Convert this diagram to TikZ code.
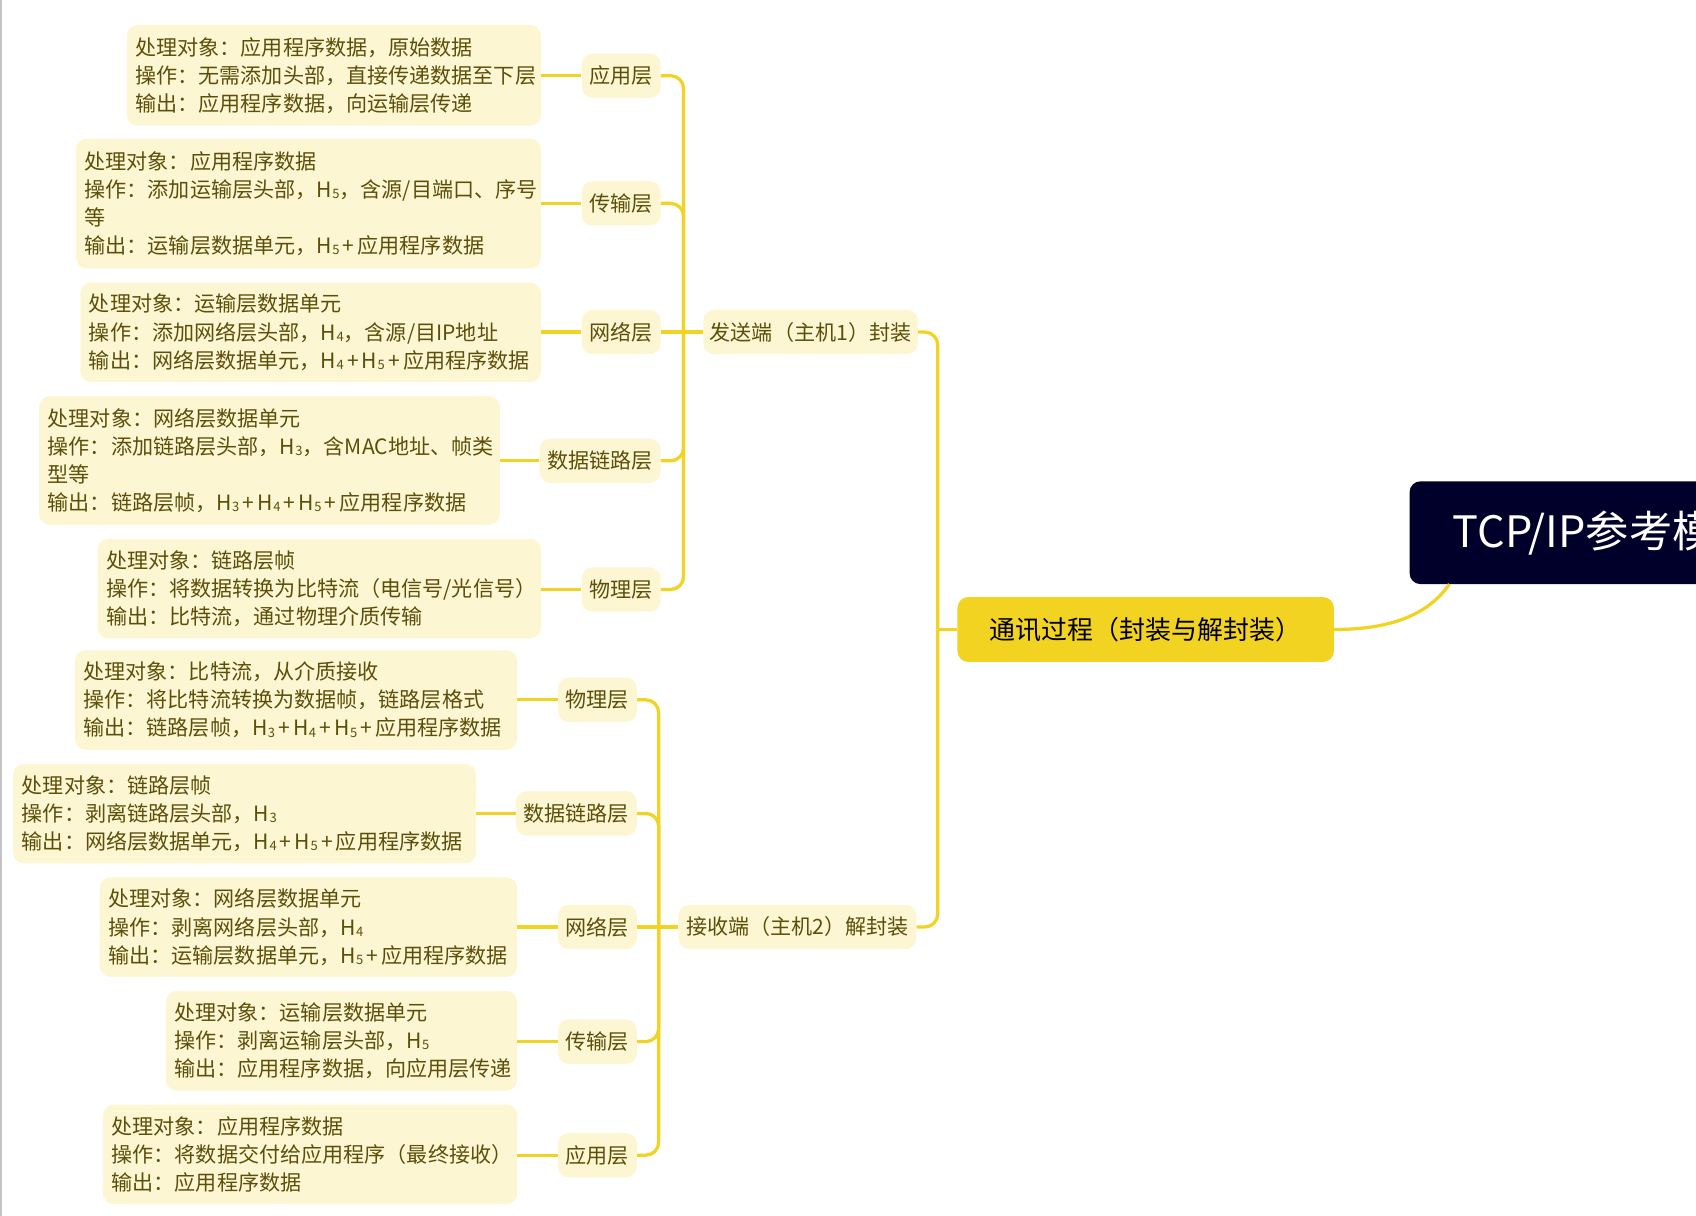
\documentclass[tikz,border=0pt]{standalone}
\usepackage{fontspec}
\setmainfont{Noto Sans CJK SC}
\definecolor{boxfill}{HTML}{FDF6D3}
\definecolor{txtcol}{HTML}{5C4F0A}
\definecolor{conncol}{HTML}{F2D322}
\definecolor{rootcol}{HTML}{00002A}
\definecolor{edgegray}{HTML}{C4C4C4}
\newcommand\Hsb[1]{H\kern0.3pt\raisebox{-0.1ex}{\fontsize{12}{12}\selectfont #1}}
\newcommand\pl{\kern3pt+\kern3pt}
\tikzset{
  detail/.style={fill=boxfill, text=txtcol, rounded corners=10pt, anchor=north west,
    align=left, inner xsep=8pt, inner ysep=0pt,
    font=\fontsize{19.5}{26}\selectfont},
  layer/.style={fill=boxfill, text=txtcol, rounded corners=10pt, anchor=east,
    minimum height=41pt, inner xsep=7pt, inner ysep=0pt,
    font=\fontsize{19.5}{26}\selectfont},
  mid/.style={fill=boxfill, text=txtcol, rounded corners=10pt,
    minimum height=41pt, inner xsep=6pt, inner ysep=0pt,
    font=\fontsize{19.5}{26}\selectfont},
  conn/.style={draw=conncol, line width=3pt},
  connr/.style={conn, rounded corners=12pt}
}
\begin{document}
\begin{tikzpicture}[x=1pt,y=-1pt]
\useasboundingbox (0,0) rectangle (1568,1124);
\clip (0,0) rectangle (1568,1124);
\fill[edgegray] (0,0) rectangle (2,1124);

% detail boxes, sender
\node[detail, minimum width=383pt, minimum height=93pt, text width=367pt] (d1) at (117,23)
 {处理对象：应用程序数据，原始数据\\操作：无需添加头部，直接传递数据至下层\\输出：应用程序数据，向运输层传递};
\node[detail, minimum width=430pt, minimum height=120pt, text width=414pt] (d2) at (70,128)
 {处理对象：应用程序数据\\操作：添加运输层头部，\Hsb{5}，含源/目端口、序号\\等\\输出：运输层数据单元，\Hsb{5}\pl{}应用程序数据};
\node[detail, minimum width=426pt, minimum height=92pt, text width=410pt] (d3) at (74,261)
 {处理对象：运输层数据单元\\操作：添加网络层头部，\Hsb{4}，含源/目IP地址\\输出：网络层数据单元，\Hsb{4}\pl{}\Hsb{5}\pl{}应用程序数据};
\node[detail, minimum width=426pt, minimum height=119pt, text width=410pt] (d4) at (36,366)
 {处理对象：网络层数据单元\\操作：添加链路层头部，\Hsb{3}，含MAC地址、帧类\\型等\\输出：链路层帧，\Hsb{3}\pl{}\Hsb{4}\pl{}\Hsb{5}\pl{}应用程序数据};
\node[detail, minimum width=410pt, minimum height=92pt, text width=394pt] (d5) at (90,498)
 {处理对象：链路层帧\\操作：将数据转换为比特流（电信号/光信号）\\输出：比特流，通过物理介质传输};

% detail boxes, receiver
\node[detail, minimum width=409pt, minimum height=92pt, text width=393pt] (d6) at (69,601)
 {处理对象：比特流，从介质接收\\操作：将比特流转换为数据帧，链路层格式\\输出：链路层帧，\Hsb{3}\pl{}\Hsb{4}\pl{}\Hsb{5}\pl{}应用程序数据};
\node[detail, minimum width=428pt, minimum height=92pt, text width=412pt] (d7) at (12,706)
 {处理对象：链路层帧\\操作：剥离链路层头部，\Hsb{3}\\输出：网络层数据单元，\Hsb{4}\pl{}\Hsb{5}\pl{}应用程序数据};
\node[detail, minimum width=386pt, minimum height=92pt, text width=370pt] (d8) at (92,811)
 {处理对象：网络层数据单元\\操作：剥离网络层头部，\Hsb{4}\\输出：运输层数据单元，\Hsb{5}\pl{}应用程序数据};
\node[detail, minimum width=325pt, minimum height=92pt, text width=309pt] (d9) at (153,916)
 {处理对象：运输层数据单元\\操作：剥离运输层头部，\Hsb{5}\\输出：应用程序数据，向应用层传递};
\node[detail, minimum width=383pt, minimum height=92pt, text width=367pt] (d10) at (95,1021)
 {处理对象：应用程序数据\\操作：将数据交付给应用程序（最终接收）\\输出：应用程序数据};

% layer nodes, sender
\node[layer, minimum width=73pt] (s1) at (611,70) {应用层};
\node[layer, minimum width=73pt] (s2) at (611,188) {传输层};
\node[layer, minimum width=73pt] (s3) at (611,307) {网络层};
\node[layer, minimum width=112pt] (s4) at (611,426) {数据链路层};
\node[layer, minimum width=73pt] (s5) at (611,545) {物理层};

% layer nodes, receiver
\node[layer, minimum width=73pt] (r1) at (589,647) {物理层};
\node[layer, minimum width=112pt] (r2) at (589,752) {数据链路层};
\node[layer, minimum width=73pt] (r3) at (589,857) {网络层};
\node[layer, minimum width=73pt] (r4) at (589,963) {传输层};
\node[layer, minimum width=73pt] (r5) at (589,1068) {应用层};

% middle nodes
\node[mid, anchor=west, minimum width=197pt] (send) at (650,307) {发送端（主机1）封装};
\node[mid, anchor=west, minimum width=220pt] (recv) at (627,857) {接收端（主机2）解封装};

% center node
\node[fill=conncol, text=black, rounded corners=10pt, anchor=west,
      minimum width=348pt, minimum height=60pt, inner xsep=25pt, inner ysep=0pt,
      font=\fontsize{24}{28}\selectfont] (proc) at (885,582) {通讯过程（封装与解封装）};

% root node
\node[fill=rootcol, text=white, rounded corners=10pt, anchor=west,
      minimum height=95pt, inner xsep=40pt, inner ysep=0pt,
      font=\fontsize{40}{46}\selectfont] (root) at (1303,492.5) {TCP/IP参考模型};

% trunk coordinates
\coordinate (tu) at (632,307);
\coordinate (tl) at (609,857);
\coordinate (tm) at (867,582);

% detail -> layer
\foreach \d/\l in {d1/s1,d2/s2,d3/s3,d4/s4,d5/s5,d6/r1,d7/r2,d8/r3,d9/r4,d10/r5}
  \draw[conn] (\l.west) -- (\l.west -| \d.east);

% layer -> sender trunk
\foreach \l in {s1,s2,s4,s5}
  \draw[connr] (\l.east) -| (tu);
\draw[conn] (s3.east) -- (tu);
\draw[conn] (tu) -- (send.west);

% layer -> receiver trunk
\foreach \l in {r1,r2,r4,r5}
  \draw[connr] (\l.east) -| (tl);
\draw[conn] (r3.east) -- (tl);
\draw[conn] (tl) -- (recv.west);

% middle -> center trunk
\draw[connr] (send.east) -| (tm);
\draw[connr] (recv.east) -| (tm);
\draw[conn] (tm) -- (proc.west);

% center -> root
\coordinate (rootfoot) at (1340,540);
\draw[conn] (proc.east) .. controls (1290,582) and (1322,566) .. (rootfoot);
\end{tikzpicture}
\end{document}
